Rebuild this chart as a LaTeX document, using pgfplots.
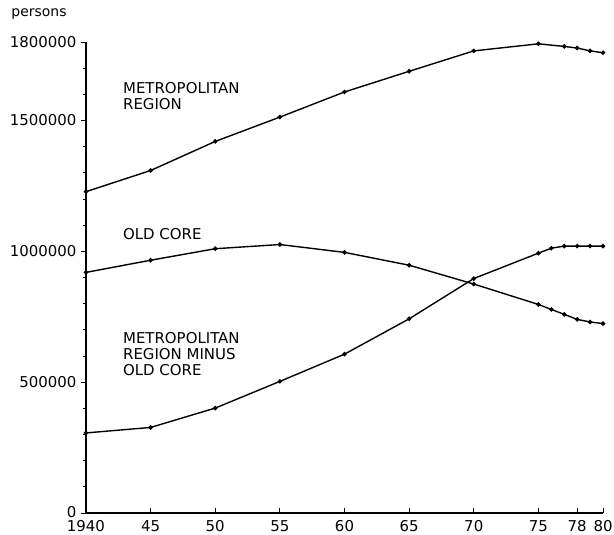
\documentclass[border=0pt]{standalone}
\usepackage{pgfplots}
\pgfplotsset{compat=1.18}
\usepackage{fontspec}
\setmainfont{DejaVu Sans}
\begin{document}
\begin{tikzpicture}
\begin{axis}[
  scale only axis,
  width=517bp, height=471bp,
  xmin=1940, xmax=1980, ymin=0, ymax=1800000,
  axis lines=left,
  axis line style={-, line width=1.2pt},
  xtick={1940,1945,1950,1955,1960,1965,1970,1975,1978,1980},
  xticklabels={1940,45,50,55,60,65,70,75,78,80},
  ytick={0,500000,1000000,1500000,1800000},
  yticklabels={{\raisebox{3bp}{0}},500000,1000000,1500000,1800000},
  minor ytick={100000,200000,300000,400000,600000,700000,800000,900000,1100000,1200000,1300000,1400000,1600000,1700000},
  scaled y ticks=false,
  tick style={black, line width=0.9pt},
  major tick length=5bp, minor tick length=3bp,
  y tick label style={font=\fontsize{15}{17}\selectfont, xshift=-1bp},
  x tick label style={font=\fontsize{15}{17}\selectfont, yshift=-6bp, inner sep=1bp},
  xtick align=inside, ytick align=outside,
  clip=false,
]
\coordinate (ll) at (rel axis cs:0,0);
\coordinate (ur) at (rel axis cs:1,1);
\addplot[black, line width=1.4pt, mark=*, mark size=1.5pt] coordinates {
(1940,1228000) (1945,1309000) (1950,1420000) (1955,1513000) (1960,1609000) (1965,1688000) (1970,1766000) (1975,1793000) (1977,1783000) (1978,1777000) (1979,1766000) (1980,1759000)};
\addplot[black, line width=1.4pt, mark=*, mark size=1.5pt] coordinates {
(1940,919500) (1945,966000) (1950,1010000) (1955,1026000) (1960,996000) (1965,947000) (1970,875000) (1975,797000) (1976,778000) (1977,759000) (1978,740000) (1979,730000) (1980,724000)};
\addplot[black, line width=1.4pt, mark=*, mark size=1.5pt] coordinates {
(1940,306000) (1945,327000) (1950,401000) (1955,503000) (1960,607000) (1965,742000) (1970,896000) (1975,993000) (1976,1012000) (1977,1020000) (1978,1020000) (1979,1020000) (1980,1020000)};
\node[anchor=west, align=left, font=\fontsize{15}{16}\selectfont] at (axis cs:1942.6,1594000) {METROPOLITAN\\REGION};
\node[anchor=west, align=left, font=\fontsize{15}{16}\selectfont] at (axis cs:1942.6,1065000) {OLD CORE};
\node[anchor=west, align=left, font=\fontsize{15}{16}\selectfont] at (axis cs:1942.6,609000) {METROPOLITAN\\REGION MINUS\\OLD CORE};
\node[anchor=center, font=\fontsize{14}{16}\selectfont] at ([xshift=-47bp,yshift=28bp]rel axis cs:0,1) {persons};
\end{axis}
\pgfresetboundingbox
\path ([xshift=-86bp,yshift=-21bp]ll) rectangle ([xshift=11bp,yshift=42bp]ur);
\end{tikzpicture}
\end{document}
